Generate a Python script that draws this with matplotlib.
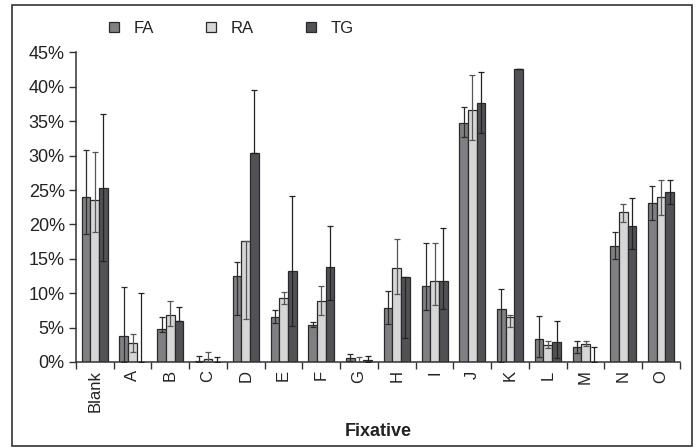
import matplotlib.pyplot as plt
import numpy as np
from matplotlib.patches import Rectangle

plt.rcParams['font.family'] = ['Liberation Sans', 'DejaVu Sans']

# 固定剂名称
cats = ['Blank', 'A', 'B', 'C', 'D', 'E', 'F', 'G', 'H', 'I', 'J', 'K', 'L', 'M', 'N', 'O']

# 各组均值 (%)
fa = [24.0, 3.8, 4.8, 0.1, 12.5, 6.5, 5.4, 0.6, 7.8, 11.0, 34.8, 7.7, 3.4, 2.2, 16.8, 23.1]
ra = [23.6, 2.7, 6.8, 0.4, 17.6, 9.3, 8.9, 0.0, 13.7, 11.8, 36.7, 6.5, 2.5, 2.6, 21.8, 24.0]
tg = [25.3, 0.0, 5.9, 0.0, 30.4, 13.2, 13.8, 0.3, 12.3, 11.8, 37.6, 42.6, 2.9, 0.0, 19.7, 24.7]

# 误差线下端 / 上端 (%)
fa_lo = [18.6, 0.0, 4.4, 0.0, 6.8, 5.6, 5.1, 0.2, 5.5, 7.5, 32.7, 0.0, 0.7, 1.3, 15.0, 20.6]
fa_hi = [30.8, 10.9, 6.5, 0.8, 14.5, 7.6, 5.8, 1.2, 10.3, 17.3, 37.0, 10.6, 6.7, 3.1, 18.9, 25.6]
ra_lo = [18.9, 1.4, 5.3, 0.0, 6.2, 8.4, 6.8, 0.0, 9.9, 8.3, 32.3, 5.1, 2.0, 2.3, 20.4, 21.4]
ra_hi = [30.5, 4.0, 8.8, 1.5, 17.6, 10.2, 11.0, 0.7, 17.9, 17.3, 41.7, 6.9, 3.0, 3.0, 23.0, 26.5]
tg_lo = [14.7, 0.0, 5.9, 0.0, 30.4, 5.2, 9.0, 0.0, 3.5, 7.7, 33.3, 42.6, 0.6, 0.0, 16.4, 23.0]
tg_hi = [36.0, 10.1, 8.0, 0.7, 39.5, 24.1, 19.7, 0.9, 12.3, 19.5, 42.2, 42.6, 5.9, 2.2, 23.9, 26.4]

fig = plt.figure(figsize=(6.96, 4.48), dpi=100)
ax = fig.add_axes([0.109, 0.192, 0.868, 0.691])

x = np.arange(len(cats))
w = 0.23
series = [
    ('FA', fa, fa_lo, fa_hi, '#808082', '#2b2b2b'),
    ('RA', ra, ra_lo, ra_hi, '#d6d6d6', '#555555'),
    ('TG', tg, tg_lo, tg_hi, '#525254', '#222222'),
]
for i, (name, v, lo, hi, col, ecol) in enumerate(series):
    v = np.array(v)
    err = [v - np.array(lo), np.array(hi) - v]
    xs = x + (i - 1) * w
    ax.bar(xs, v, w, color=col, edgecolor='#2a2a2a', linewidth=0.9, label=name, zorder=2)
    ax.errorbar(xs, v, yerr=err, fmt='none', ecolor=ecol, elinewidth=0.9,
                capsize=2.5, capthick=0.9, zorder=3)

ax.set_xlim(-0.5, len(cats) - 0.5)
ax.set_ylim(0, 45)
ax.set_yticks(np.arange(0, 46, 5))
ax.set_yticklabels(['%d%%' % t for t in np.arange(0, 46, 5)], fontsize=13, color='#222222')

# 刻度线放在类别之间
ax.set_xticks(x)
ax.set_xticklabels(cats, rotation=90, fontsize=12, color='#222222')
ax.set_xticks(np.arange(-0.5, len(cats)), minor=True)
ax.tick_params(axis='x', which='major', length=0, pad=6)
ax.tick_params(axis='x', which='minor', length=5, width=1, color='#333333', direction='out')
ax.tick_params(axis='y', length=5, width=1, color='#333333', direction='out', pad=3)

for s in ['top', 'right']:
    ax.spines[s].set_visible(False)
for s in ['left', 'bottom']:
    ax.spines[s].set_color('#333333')
    ax.spines[s].set_linewidth(1.1)

ax.set_xlabel('Fixative', fontsize=13, fontweight='bold', labelpad=8, color='#222222')

leg = fig.legend(loc='center left', bbox_to_anchor=(0.147, 0.937), ncol=3, frameon=False,
                 fontsize=12, handlelength=0.6, handleheight=0.6, handletextpad=0.9,
                 columnspacing=3.1, borderaxespad=0)
for t in leg.get_texts():
    t.set_color('#222222')

# 外框
fig.patches.append(Rectangle((12 / 696, 0.004), 680 / 696, 1 - 5 / 448 - 0.004,
                             transform=fig.transFigure, fill=False,
                             edgecolor='#333333', linewidth=1.2))

plt.savefig('out.png', dpi=100)
